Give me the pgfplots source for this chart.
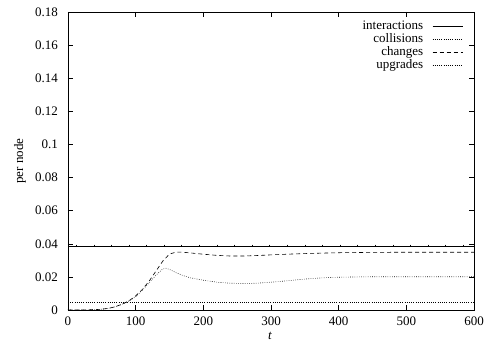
\documentclass[border=0pt]{standalone}
\usepackage{pgfplots}
\pgfplotsset{compat=1.18}
\usepackage{fontspec}
\setmainfont{Liberation Serif}
\begin{document}
\begin{tikzpicture}
\begin{axis}[
  at={(0,0)}, anchor=south west,
  scale only axis,
  width=406pt, height=298pt,
  xmin=0, xmax=600, ymin=0, ymax=0.18,
  xtick={0,100,...,600},
  ytick={0,0.02,...,0.18},
  yticklabel style={/pgf/number format/fixed, inner sep=0pt, xshift=-10pt},
  xticklabel style={inner sep=0pt, yshift=-7pt},
  /pgf/number format/assume math mode=true,
  tick align=inside,
  tick style={black, line width=0.5pt},
  major tick length=5pt,
  axis line style={line width=0.8pt},
  font=\fontsize{13}{15}\selectfont,
  legend style={draw=none, fill=none, legend cell align=right, row sep=-1.5pt, column sep=7pt, at={(1,1)}, anchor=north east, xshift=-8pt, yshift=-5pt},
  legend plot pos=right,
  legend image code/.code={\draw[#1] (0pt,0pt) -- (30pt,0pt);},
]
\addplot[black, line width=0.6pt] coordinates {(0,0.0385) (600,0.0385)};
\addlegendentry{interactions}
\addplot[black, dash pattern=on 0.6pt off 1.6pt, line width=0.6pt] coordinates {
(0,0) (20,0) (40,0.0002) (50,0.0005) (60,0.001) (70,0.002) (80,0.0035) (90,0.0055) (100,0.008) (110,0.012) (120,0.0165) (130,0.021) (140,0.0248) (145,0.0252) (150,0.0245) (160,0.0225) (170,0.0208) (180,0.0195) (200,0.018) (220,0.0168) (240,0.0162) (260,0.016) (280,0.0162) (300,0.0168) (320,0.0175) (340,0.0183) (360,0.019) (380,0.0195) (400,0.0198) (450,0.0201) (500,0.0201) (550,0.0201) (600,0.0201)};
\addlegendentry{collisions}
\addplot[black, dash pattern=on 4pt off 3pt, line width=0.6pt] coordinates {
(0,0) (20,0) (40,0.0002) (50,0.0005) (60,0.001) (70,0.002) (80,0.0035) (90,0.0055) (100,0.0085) (110,0.0125) (120,0.0175) (130,0.0235) (140,0.0295) (150,0.0338) (160,0.035) (170,0.0349) (180,0.0345) (200,0.0337) (220,0.033) (240,0.0326) (260,0.0326) (280,0.0329) (300,0.0333) (330,0.0338) (360,0.0342) (400,0.0346) (450,0.0348) (500,0.0349) (600,0.0349)};
\addlegendentry{changes}
\addplot[black, dash pattern=on 0.6pt off 1.6pt, line width=0.6pt] coordinates {(0,0.0045) (600,0.0045)};
\addlegendentry{upgrades}
\addplot[black, only marks, mark=|, mark size=1.2pt, forget plot] coordinates {
(12,0.0388) (38,0.0388) (64,0.0388) (90,0.0388) (116,0.0388) (142,0.0388) (168,0.0388) (194,0.0388) (220,0.0388) (246,0.0388) (272,0.0388) (298,0.0388) (324,0.0388) (350,0.0388) (376,0.0388) (402,0.0388) (428,0.0388) (454,0.0388) (480,0.0388) (506,0.0388) (532,0.0388) (558,0.0388) (584,0.0388)};
\end{axis}
\node[font=\fontsize{13}{15}\selectfont\itshape] at (202pt,-26pt) {t};
\node[font=\fontsize{13}{15}\selectfont, rotate=90] at (-48pt,149pt) {per node};
\pgfresetboundingbox
\path (-68pt,-33pt) rectangle (417pt,310pt);
\end{tikzpicture}
\end{document}
